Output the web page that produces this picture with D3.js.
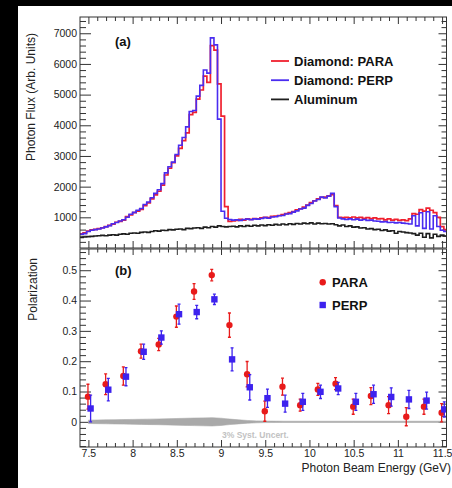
<!DOCTYPE html>
<html><head><meta charset="utf-8">
<script src="https://cdn.jsdelivr.net/npm/d3@7"></script>
<style>body{margin:0;background:#000;} svg{display:block;}</style>
</head><body>
<svg id="c" width="452" height="488"></svg>
<script>
// ---------- DATA ----------
// Photon flux histograms, bins of width 0.04 GeV starting at 7.40 GeV
const binStart = 7.40;
const binWidth = 0.04;
const fluxPERP = [450,470,540,580,600,620,650,690,730,790,
  830,880,920,1000,1100,1160,1230,1290,1420,1500,
  1640,1780,1900,2100,2450,2650,2800,3050,3350,3600,
  3950,4450,4480,4950,5300,5800,5700,6850,6620,4200,
  1200,970,930,910,920,900,930,940,920,950,
  940,960,990,970,1010,1020,1050,1060,1110,1120,
  1170,1210,1270,1300,1390,1450,1530,1580,1660,1630,
  1690,1780,1350,980,950,930,950,920,940,910,
  930,900,910,880,870,850,860,830,840,820,
  830,810,800,780,1050,720,1150,640,1180,620,
  1050,700,580,540];
const fluxPARA = [460,490,550,590,610,630,660,700,740,780,
  840,870,910,1020,1080,1150,1200,1260,1380,1470,
  1600,1730,1850,2050,2380,2600,2780,3000,3250,3500,
  3750,4350,4420,4850,5150,5600,5400,6600,6450,5350,
  4300,1350,870,880,900,930,910,950,930,960,
  950,980,1000,990,1030,1040,1060,1090,1120,1150,
  1190,1240,1280,1330,1400,1480,1540,1600,1650,1660,
  1700,1740,1380,1000,990,1000,980,1010,980,1000,
  970,990,960,980,950,960,920,950,910,930,
  900,920,890,950,1120,1100,1250,1200,1300,1230,
  1150,1000,700,600];
const fluxAl = [340,360,370,380,390,400,410,400,420,430,
  420,450,460,450,480,490,480,510,520,510,
  540,560,550,580,570,600,590,610,620,600,
  640,630,650,660,640,680,660,700,680,720,
  700,690,700,710,690,720,700,730,710,740,
  720,750,730,760,740,770,750,780,760,790,
  770,800,780,810,790,820,780,810,790,800,
  780,790,760,720,750,700,720,680,690,650,
  660,620,630,600,610,570,590,550,560,480,
  540,520,500,490,470,420,480,350,470,330,
  450,380,420,390];

// Polarization
const polE = [7.5,7.7,7.9,8.1,8.3,8.5,8.7,8.9,9.1,9.3,9.5,9.7,9.9,10.1,10.3,10.5,10.7,10.9,11.1,11.3,11.5];
const paraP   = [0.083,0.124,0.151,0.233,0.255,0.347,0.430,0.484,0.319,0.157,0.035,0.116,0.055,0.107,0.126,0.050,0.085,0.055,0.017,0.050,0.030];
const paraErr = [0.041,0.034,0.030,0.023,0.020,0.035,0.026,0.019,0.040,0.042,0.033,0.028,0.020,0.020,0.020,0.025,0.028,0.028,0.030,0.025,0.030];
const perpP   = [0.044,0.106,0.149,0.231,0.278,0.355,0.362,0.404,0.206,0.114,0.078,0.060,0.066,0.099,0.110,0.066,0.091,0.082,0.074,0.070,0.041];
const perpErr = [0.044,0.037,0.030,0.025,0.022,0.033,0.022,0.017,0.038,0.042,0.030,0.028,0.028,0.022,0.020,0.028,0.030,0.030,0.030,0.028,0.025];
// 3% systematic band half-width
const bandE    = [7.5,7.7,7.9,8.1,8.3,8.5,8.7,8.9,9.1,9.3,9.5,9.7,10.0,10.5,11.0,11.55];
const bandHalf = [0.0055,0.0065,0.0075,0.0085,0.0095,0.011,0.0125,0.0137,0.009,0.0045,0.0025,0.002,0.002,0.002,0.002,0.002];

const xMajor = [7.5,8,8.5,9,9.5,10,10.5,11,11.5];
const y1Major = [1000,2000,3000,4000,5000,6000,7000];
const y2Major = [0,0.1,0.2,0.3,0.4,0.5];

const legendTop = [["Diamond: PARA","para"],["Diamond: PERP","perp"],["Aluminum","al"]];
const legendBot = [["PARA","para"],["PERP","perp"]];

// ---------- STYLE ----------
const C = {para:"#f0202e", perp:"#4a2cf0", al:"#1e1e1e", paraM:"#e81a1a", perpM:"#3d22ee"};
const FONT = "'Liberation Sans', Arial, Helvetica, sans-serif";

const L=80, R=446.5, T1=17, B1=248, T2=249, B2=447;
const x  = d3.scaleLinear().domain([7.405,11.55]).range([L,R]);
const y1 = d3.scaleLinear().domain([0,7530]).range([B1,T1]);
const y2 = d3.scaleLinear().domain([-0.083,0.57]).range([B2,T2]);

const svg = d3.select("#c");
svg.append("rect").attr("width",452).attr("height",488).attr("fill","#000");
svg.append("rect").attr("x",18).attr("y",6).attr("width",434).attr("height",482).attr("fill","#fff");

const defs = svg.append("defs");
defs.append("clipPath").attr("id","clip1").append("rect").attr("x",L).attr("y",T1).attr("width",R-L).attr("height",B1-T1);
defs.append("clipPath").attr("id","clip2").append("rect").attr("x",L).attr("y",T2).attr("width",R-L).attr("height",B2-T2);

// ---------- AXES ----------
const xMinor = d3.range(7.5-0.1, 11.56, 0.1).map(v=>+v.toFixed(2)).filter(v=>v>=7.405 && v<=11.55 && !xMajor.some(m=>Math.abs(m-v)<1e-6));
const y1Minor = d3.range(200,7530,200).filter(v=>v%1000!==0);
const y2Minor = d3.range(-0.08,0.571,0.02).map(v=>+v.toFixed(2)).filter(v=>!y2Major.some(m=>Math.abs(m-v)<1e-6) && Math.abs(Math.round(v*10)-v*10)>1e-6);

function styleAxis(g){
  g.select(".domain").remove();
  g.selectAll("line").attr("stroke","#333").attr("stroke-width",1);
  g.selectAll("text").attr("fill","#222").style("font-family",FONT).style("font-size","10.5px");
}
function addAxis(axis, tx, ty){
  svg.append("g").attr("transform",`translate(${tx},${ty})`).call(axis).call(styleAxis);
}
const xfmt = d => (Math.abs(d-Math.round(d))<1e-9 ? String(Math.round(d)) : d.toFixed(1));

// top panel x ticks
addAxis(d3.axisBottom(x).tickValues(xMajor).tickSize(-7).tickFormat(""),0,B1);
addAxis(d3.axisBottom(x).tickValues(xMinor).tickSize(-4).tickFormat(""),0,B1);
addAxis(d3.axisTop(x).tickValues(xMajor).tickSize(-7).tickFormat(""),0,T1);
addAxis(d3.axisTop(x).tickValues(xMinor).tickSize(-4).tickFormat(""),0,T1);
// top panel y ticks
addAxis(d3.axisLeft(y1).tickValues(y1Major).tickSize(-11).tickPadding(3).tickFormat(d3.format("d")),L,0);
addAxis(d3.axisLeft(y1).tickValues(y1Minor).tickSize(-6).tickFormat(""),L,0);
addAxis(d3.axisRight(y1).tickValues(y1Major).tickSize(-8).tickFormat(""),R,0);
addAxis(d3.axisRight(y1).tickValues(y1Minor).tickSize(-5).tickFormat(""),R,0);
// bottom panel x ticks
addAxis(d3.axisBottom(x).tickValues(xMajor).tickSize(-7).tickPadding(3).tickFormat(xfmt),0,B2);
addAxis(d3.axisBottom(x).tickValues(xMinor).tickSize(-4).tickFormat(""),0,B2);
addAxis(d3.axisTop(x).tickValues(xMajor).tickSize(-6).tickFormat(""),0,T2);
addAxis(d3.axisTop(x).tickValues(xMinor).tickSize(-3.5).tickFormat(""),0,T2);
// bottom panel y ticks
addAxis(d3.axisLeft(y2).tickValues(y2Major).tickSize(-11).tickPadding(3).tickFormat(d=>d===0?"0":d.toFixed(1)),L,0);
addAxis(d3.axisLeft(y2).tickValues(y2Minor).tickSize(-6).tickFormat(""),L,0);
addAxis(d3.axisRight(y2).tickValues(y2Major).tickSize(-8).tickFormat(""),R,0);
addAxis(d3.axisRight(y2).tickValues(y2Minor).tickSize(-5).tickFormat(""),R,0);

// ---------- TOP PANEL: histograms ----------
function histPts(vals){
  const pts = vals.map((v,i)=>[binStart+i*binWidth, v]);
  pts.push([binStart+vals.length*binWidth, vals[vals.length-1]]);
  return pts;
}
const hline = d3.line().x(d=>x(d[0])).y(d=>y1(d[1])).curve(d3.curveStepAfter);
const gH = svg.append("g").attr("clip-path","url(#clip1)");
gH.append("path").attr("d",hline(histPts(fluxAl))).attr("fill","none").attr("stroke",C.al).attr("stroke-width",1.6);
gH.append("path").attr("d",hline(histPts(fluxPARA))).attr("fill","none").attr("stroke",C.para).attr("stroke-width",1.7);
gH.append("path").attr("d",hline(histPts(fluxPERP))).attr("fill","none").attr("stroke",C.perp).attr("stroke-width",1.6);

// ---------- BOTTOM PANEL ----------
const gP = svg.append("g").attr("clip-path","url(#clip2)");
const area = d3.area().x((d,i)=>x(bandE[i])).y0((d)=>y2(-d)).y1(d=>y2(d)).curve(d3.curveMonotoneX);
gP.append("path").attr("d",area(bandHalf)).attr("fill","#a9a9a9").attr("stroke","#a9a9a9").attr("stroke-width",0.6);

svg.append("text").attr("x",222).attr("y",437.5).text("3% Syst. Uncert.")
  .style("font-family",FONT).style("font-size","8.5px").style("font-weight","bold").attr("fill","#c2c2c2");

const paraShift = -0.005, perpShift = 0.025;
function errBars(P, E, shift, col){
  const g = gP.append("g").attr("stroke",col).attr("stroke-width",1.3);
  polE.forEach((e,i)=>{
    const cx = x(e+shift), top = y2(P[i]+E[i]), bot = y2(P[i]-E[i]);
    g.append("line").attr("x1",cx).attr("x2",cx).attr("y1",top).attr("y2",bot);
    g.append("line").attr("x1",cx-1.5).attr("x2",cx+1.5).attr("y1",top).attr("y2",top);
    g.append("line").attr("x1",cx-1.5).attr("x2",cx+1.5).attr("y1",bot).attr("y2",bot);
  });
}
errBars(paraP, paraErr, paraShift, C.paraM);
gP.selectAll("circle.para").data(paraP).enter().append("circle")
  .attr("cx",(d,i)=>x(polE[i]+paraShift)).attr("cy",d=>y2(d)).attr("r",3.2).attr("fill",C.paraM);
errBars(perpP, perpErr, perpShift, C.perpM);
gP.selectAll("rect.perp").data(perpP).enter().append("rect")
  .attr("x",(d,i)=>x(polE[i]+perpShift)-3.2).attr("y",d=>y2(d)-3.2).attr("width",6.4).attr("height",6.4).attr("fill",C.perpM);

// ---------- FRAMES ----------
svg.append("rect").attr("x",L).attr("y",T1).attr("width",R-L).attr("height",B1-T1).attr("fill","none").attr("stroke","#333").attr("stroke-width",1);
svg.append("rect").attr("x",L).attr("y",T2).attr("width",R-L).attr("height",B2-T2).attr("fill","none").attr("stroke","#333").attr("stroke-width",1);

// ---------- TEXT ----------
svg.append("text").attr("x",115).attr("y",45.5).text("(a)").style("font-family",FONT).style("font-size","13px").style("font-weight","bold").attr("fill","#111");
svg.append("text").attr("x",115).attr("y",275).text("(b)").style("font-family",FONT).style("font-size","13px").style("font-weight","bold").attr("fill","#111");

svg.append("text").attr("transform","translate(35,33) rotate(-90)").attr("text-anchor","end").text("Photon Flux (Arb. Units)")
  .style("font-family",FONT).style("font-size","12px").attr("fill","#222");
svg.append("text").attr("transform","translate(36.5,258) rotate(-90)").attr("text-anchor","end").text("Polarization")
  .style("font-family",FONT).style("font-size","12px").attr("fill","#222");
svg.append("text").attr("x",451).attr("y",472).attr("text-anchor","end").text("Photon Beam Energy (GeV)")
  .style("font-family",FONT).style("font-size","12px").attr("fill","#222");

// legends
const lgT = svg.append("g");
legendTop.forEach((d,i)=>{
  const yy = 61 + i*19.2;
  lgT.append("line").attr("x1",271).attr("x2",289).attr("y1",yy).attr("y2",yy).attr("stroke",C[d[1]]).attr("stroke-width",1.8);
  lgT.append("text").attr("x",294).attr("y",yy+4.8).text(d[0]).style("font-family",FONT).style("font-size","13px").style("font-weight","bold").attr("fill","#111");
});
const lgB = svg.append("g");
legendBot.forEach((d,i)=>{
  const yy = 282.3 + i*22.7;
  if(d[1]==="para") lgB.append("circle").attr("cx",322.7).attr("cy",yy).attr("r",3.2).attr("fill",C.paraM);
  else lgB.append("rect").attr("x",322.7-3.2).attr("y",yy-3.2).attr("width",6.4).attr("height",6.4).attr("fill",C.perpM);
  lgB.append("text").attr("x",332).attr("y",yy+4.6).text(d[0]).style("font-family",FONT).style("font-size","13px").style("font-weight","bold").attr("fill","#111");
});
</script>
</body></html>
